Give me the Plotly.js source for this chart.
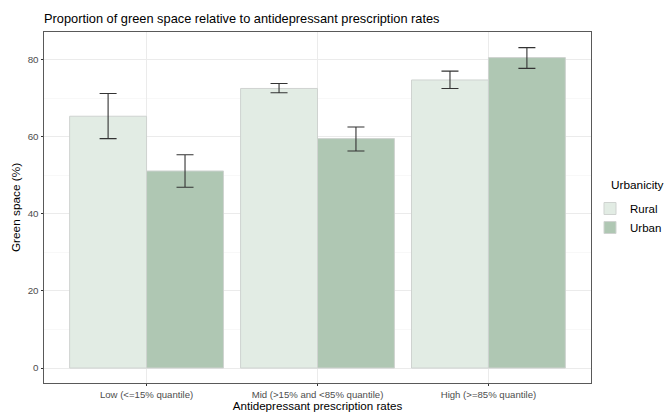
<!DOCTYPE html>
<html>
<head>
<meta charset="utf-8">
<script src="https://cdn.plot.ly/plotly-3.0.1.min.js"></script>
<style>html,body{margin:0;padding:0;background:#fff;}#chart{width:665px;height:412px;}</style>
</head>
<body>
<div id="chart"></div>
<script>
const categories = ["Low (<=15% quantile)", "Mid (>15% and <85% quantile)", "High (>=85% quantile)"];
const ruralMean = [65.3, 72.5, 74.7];
const ruralUpper = [71.2, 73.8, 77.0];
const ruralLower = [59.5, 71.4, 72.5];
const urbanMean = [51.1, 59.5, 80.5];
const urbanUpper = [55.3, 62.5, 83.1];
const urbanLower = [46.9, 56.3, 77.7];
const yTicks = [0, 20, 40, 60, 80];

function errs(mean, up, lo) {
  return {
    type: 'data', symmetric: false,
    array: mean.map((m, i) => up[i] - m),
    arrayminus: mean.map((m, i) => m - lo[i]),
    color: '#333333', thickness: 1.1, width: 8.5
  };
}

const traces = [
  {type: 'bar', name: 'Rural', x: categories, y: ruralMean,
   marker: {color: '#E2ECE4', line: {color: '#CFD3D0', width: 1}},
   error_y: errs(ruralMean, ruralUpper, ruralLower)},
  {type: 'bar', name: 'Urban', x: categories, y: urbanMean,
   marker: {color: '#AFC7B3', line: {color: '#CFD3D0', width: 1}},
   error_y: errs(urbanMean, urbanUpper, urbanLower)}
];

const font = 'Liberation Sans, Arial, sans-serif';
const layout = {
  width: 665, height: 412,
  margin: {l: 44, r: 74, t: 32, b: 29, pad: 0, autoexpand: false},
  paper_bgcolor: '#ffffff', plot_bgcolor: '#ffffff',
  barmode: 'group', bargap: 0.1, bargroupgap: 0,
  font: {family: font, color: '#000000'},
  title: {text: 'Proportion of green space relative to antidepressant prescription rates',
          x: 44/665, xanchor: 'left', xref: 'container', y: 1 - 18.5/412, yanchor: 'middle', yref: 'container',
          font: {size: 12.8, color: '#000000', family: font}},
  xaxis: {
    type: 'category', range: [-0.6, 2.6],
    showgrid: true, gridcolor: '#EBEBEB', gridwidth: 1,
    ticks: 'outside', ticklen: 2, tickcolor: '#333333', tickwidth: 1,
    tickfont: {size: 9.6, color: '#4D4D4D', family: font},
    showline: true, linecolor: '#595959', linewidth: 1, mirror: true,
    zeroline: false,
    title: {text: 'Antidepressant prescription rates', font: {size: 11.6, color: '#000000', family: font}, standoff: 4}
  },
  yaxis: {
    range: [-3.88, 87.14],
    tickvals: yTicks, ticktext: yTicks.map(String),
    showgrid: true, gridcolor: '#EBEBEB', gridwidth: 1,
    minor: {tickvals: [10, 30, 50, 70], showgrid: true, gridcolor: '#F4F4F4', gridwidth: 0.6, ticks: ''},
    ticks: 'outside', ticklen: 2.5, tickcolor: '#333333', tickwidth: 1,
    tickfont: {size: 9.8, color: '#4D4D4D', family: font},
    showline: true, linecolor: '#595959', linewidth: 1, mirror: true,
    zeroline: false,
    title: {text: 'Green space (%)', font: {size: 11.8, color: '#000000', family: font}, standoff: 4}
  },
  annotations: [{
    text: 'Urbanicity', xref: 'paper', yref: 'paper',
    x: (609 - 44) / 547, xanchor: 'left', y: (383.3 - 185) / 351.6, yanchor: 'middle',
    showarrow: false, font: {size: 11.8, color: '#000000', family: font}
  }],
  legend: {
    x: (590 - 44) / 547, xanchor: 'left', y: (383.3 - 194) / 351.6, yanchor: 'top',
    font: {size: 11.5, color: '#000000', family: font},
    bgcolor: 'rgba(0,0,0,0)', tracegroupgap: 0, itemwidth: 30
  },
  showlegend: true
};

Plotly.newPlot('chart', traces, layout, {displayModeBar: false, staticPlot: true});
</script>
</body>
</html>
